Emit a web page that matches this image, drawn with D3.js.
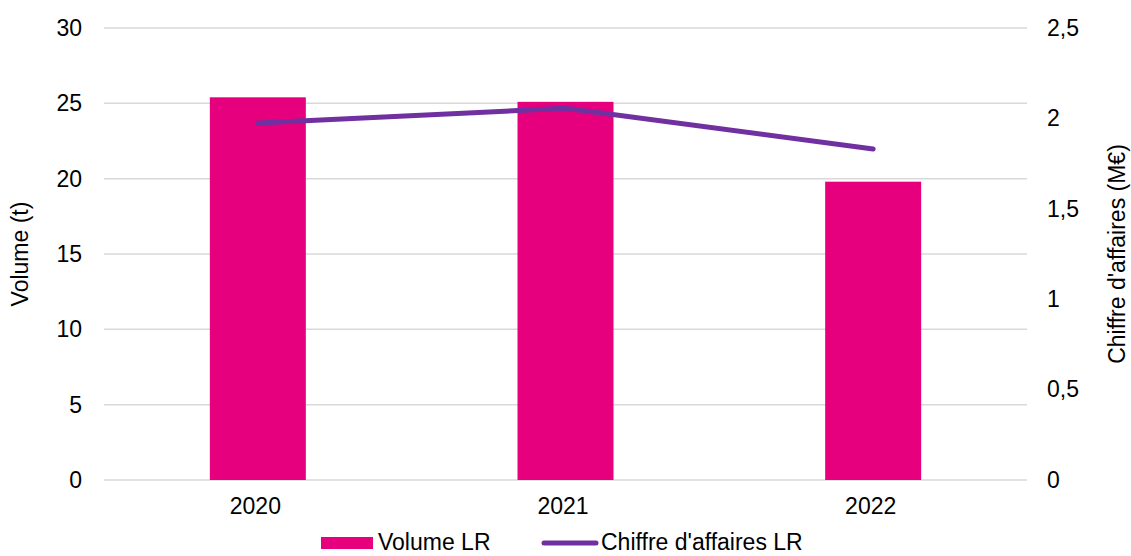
<!DOCTYPE html>
<html>
<head>
<meta charset="utf-8">
<script src="https://cdn.jsdelivr.net/npm/d3@7"></script>
<style>
  body { margin: 0; background: #fff; }
  text { font-family: "Liberation Sans", Arial, sans-serif; fill: #000; }
</style>
</head>
<body>
<div id="chart"></div>
<script>
var years = ["2020", "2021", "2022"];
var volume = [25.4, 25.1, 19.8];
var chiffre = [1.975, 2.056, 1.831];
var leftTicks = [0, 5, 10, 15, 20, 25, 30];
var rightTicks = [0, 0.5, 1, 1.5, 2, 2.5];

var W = 1131, H = 556;
var margin = { top: 28, right: 104, bottom: 76, left: 104 };
var width = W - margin.left - margin.right;
var height = H - margin.top - margin.bottom;
var fs = "23px";

var svg = d3.select("#chart").append("svg")
    .attr("width", W)
    .attr("height", H)
  .append("g")
    .attr("transform", "translate(" + margin.left + "," + margin.top + ")");

var x = d3.scaleBand().domain(years).range([0, width]).paddingInner(0.688).paddingOuter(0.344);
var xc = d3.scalePoint().domain(years).range([0, width]).padding(0.5);
var yL = d3.scaleLinear().domain([0, 30]).range([height, 0]);
var yR = d3.scaleLinear().domain([0, 2.5]).range([height, 0]);
var fmt = d3.formatLocale({ decimal: ",", thousands: "\u00a0", grouping: [3], currency: ["", ""] }).format("~g");

// gridlines
svg.append("g")
    .selectAll("line").data(leftTicks).enter().append("line")
    .attr("x1", 0).attr("x2", width)
    .attr("y1", d => yL(d)).attr("y2", d => yL(d))
    .attr("stroke", "#d9d9d9").attr("stroke-width", 1.5);

// axes
var yAxisL = d3.axisLeft(yL).tickValues(leftTicks).tickSize(0).tickPadding(22);
svg.append("g").call(yAxisL)
    .call(g => g.select(".domain").remove())
    .selectAll("text").style("font-size", fs).attr("fill", "#000");

var yAxisR = d3.axisRight(yR).tickValues(rightTicks).tickFormat(fmt).tickSize(0).tickPadding(20);
svg.append("g").attr("transform", "translate(" + width + ",0)").call(yAxisR)
    .call(g => g.select(".domain").remove())
    .selectAll("text").style("font-size", fs).attr("fill", "#000");

var xAxis = d3.axisBottom(xc).tickSize(0).tickPadding(18);
svg.append("g").attr("transform", "translate(-3," + height + ")").call(xAxis)
    .call(g => g.select(".domain").remove())
    .selectAll("text").style("font-size", fs).attr("fill", "#000");

// bars
svg.selectAll(".bar").data(volume).enter().append("rect")
    .attr("class", "bar")
    .attr("x", (d, i) => x(years[i]))
    .attr("width", x.bandwidth())
    .attr("y", d => yL(d))
    .attr("height", d => height - yL(d))
    .attr("fill", "#e6007e");

// line
var line = d3.line()
    .x((d, i) => xc(years[i]))
    .y(d => yR(d));
svg.append("path")
    .datum(chiffre)
    .attr("d", line)
    .attr("fill", "none")
    .attr("stroke", "#7030a0")
    .attr("stroke-width", 5)
    .attr("stroke-linecap", "round")
    .attr("stroke-linejoin", "round");

// axis titles
svg.append("text")
    .attr("transform", "rotate(-90)")
    .attr("x", -height / 2)
    .attr("y", -76)
    .attr("text-anchor", "middle")
    .style("font-size", fs)
    .text("Volume (t)");

svg.append("text")
    .attr("transform", "rotate(-90)")
    .attr("x", -height / 2)
    .attr("y", width + 98)
    .attr("text-anchor", "middle")
    .style("font-size", fs)
    .text("Chiffre d'affaires (M\u20ac)");

// legend
var lg = svg.append("g").attr("transform", "translate(0," + (height + 63) + ")");
lg.append("rect")
    .attr("x", 217).attr("y", -6)
    .attr("width", 52).attr("height", 12)
    .attr("fill", "#e6007e");
lg.append("text")
    .attr("x", 274).attr("y", 7)
    .style("font-size", fs)
    .text("Volume LR");
lg.append("line")
    .attr("x1", 440).attr("x2", 492)
    .attr("y1", 0).attr("y2", 0)
    .attr("stroke", "#7030a0").attr("stroke-width", 5)
    .attr("stroke-linecap", "round");
lg.append("text")
    .attr("x", 497).attr("y", 7)
    .style("font-size", fs)
    .text("Chiffre d'affaires LR");
</script>
</body>
</html>
